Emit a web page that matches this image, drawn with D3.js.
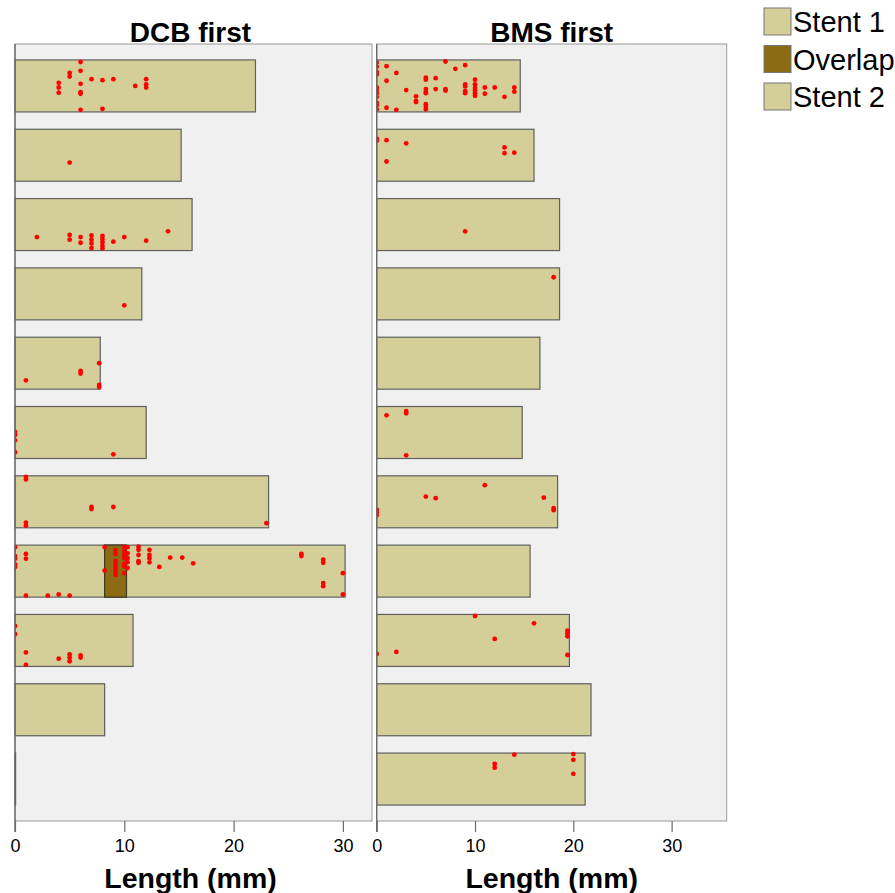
<!DOCTYPE html>
<html><head><meta charset="utf-8">
<script src="https://cdn.jsdelivr.net/npm/d3@7"></script>
<style>body{margin:0;background:#fff}svg{display:block}text{font-family:"Liberation Sans",Arial,sans-serif}</style>
</head><body><svg id="c" width="895" height="893"></svg>
<script>
// ---------- DATA ----------
const rows = ["1","2","3","4","5","6","7","8","9","10","11"];
const panelTitles = ["DCB first", "BMS first"];
const xTicks = [0, 10, 20, 30];
const xLabel = "Length (mm)";
const legendLabels = ["Stent 1", "Overlap", "Stent 2"];

// DCB first panel: stent 1 length per row, optional stent 2 [start,end]
const dcbStent1 = [22.0, 15.2, 16.2, 11.6, 7.8, 12.0, 23.2, 10.2, 10.8, 8.2, 0];
const dcbStent2 = [null, null, null, null, null, null, null, [8.2, 30.2], null, null, null];
// BMS first panel
const bmsStent1 = [14.6, 16.0, 18.6, 18.6, 16.6, 14.8, 18.4, 15.6, 19.6, 21.8, 21.2];
const bmsStent2 = [null, null, null, null, null, null, null, null, null, null, null];

// points: [row index, position (mm), vertical position within bar (0 top .. 1 bottom)]
const dcbPoints = [
 [0,6,0.04],[0,6,0.21],[0,5,0.25],[0,5,0.32],[0,4,0.44],[0,4,0.53],[0,4,0.63],[0,6,0.46],[0,6,0.62],[0,6,0.65],
 [0,7,0.37],[0,8,0.39],[0,9,0.37],[0,11,0.5],[0,12,0.37],[0,12,0.47],[0,12,0.53],[0,6,0.96],[0,8,0.94],
 [1,5,0.64],
 [2,2,0.74],[2,5,0.70],[2,5,0.79],[2,6,0.74],[2,6,0.85],[2,7,0.71],[2,7,0.79],[2,7,0.86],[2,7,0.95],[2,8,0.72],
 [2,8,0.78],[2,8,0.84],[2,8,0.91],[2,8,0.96],[2,9,0.83],[2,10,0.74],[2,12,0.81],[2,14,0.63],
 [3,10,0.72],
 [4,1,0.83],[4,6,0.65],[4,6,0.70],[4,7.7,0.50],[4,7.7,0.92],[4,7.7,0.96],
 [5,0,0.49],[5,0,0.55],[5,0,0.65],[5,0,0.88],[5,9,0.92],
 [6,1,0.02],[6,1,0.07],[6,7,0.60],[6,7,0.64],[6,9,0.60],[6,1,0.90],[6,1,0.96],[6,23,0.91],
 [7,0,0.04],[7,0,0.21],[7,0,0.26],[7,0,0.37],[7,0,0.42],[7,1,0.17],[7,1,0.26],[7,1,0.97],[7,3,0.97],[7,4,0.95],[7,5,0.97],
 [7,8.2,0.04],[7,8.2,0.49],
 [7,9.2,0.10],[7,9.2,0.17],[7,9.2,0.31],[7,9.2,0.38],[7,9.2,0.44],[7,9.2,0.51],[7,9.2,0.57],
 [7,10.0,0.04],[7,10.0,0.12],[7,10.0,0.19],[7,10.0,0.25],[7,10.0,0.36],[7,10.0,0.41],[7,10.0,0.54],
 [7,10.3,0.04],[7,10.3,0.16],[7,10.3,0.25],[7,10.3,0.33],[7,10.3,0.44],
 [7,11.3,0.03],[7,11.3,0.09],[7,11.3,0.19],[7,11.3,0.31],[7,11.3,0.34],
 [7,12.3,0.09],[7,12.3,0.19],[7,12.3,0.25],[7,12.3,0.33],
 [7,13.2,0.42],[7,14.2,0.24],[7,15.3,0.24],[7,16.3,0.35],
 [7,26.2,0.17],[7,26.2,0.21],[7,28.2,0.28],[7,28.2,0.34],[7,28.2,0.73],[7,28.2,0.79],[7,30.0,0.54],[7,30.0,0.95],
 [8,0,0.22],[8,0,0.38],[8,1,0.73],[8,1,0.97],[8,4,0.85],[8,5,0.77],[8,5,0.83],[8,5,0.90],[8,6,0.79],[8,6,0.83]
];
const bmsPoints = [
 [0,0,0.05],[0,0,0.13],[0,0,0.23],[0,0,0.28],[0,0,0.53],[0,0,0.58],[0,0,0.64],[0,0,0.71],[0,0,0.82],[0,0,0.87],[0,0,0.95],
 [0,1,0.12],[0,1,0.40],[0,1,0.92],[0,2,0.25],[0,2,0.96],[0,3,0.58],[0,4,0.70],[0,4,0.79],[0,4,0.81],
 [0,5,0.34],[0,5,0.38],[0,5,0.56],[0,5,0.61],[0,5,0.64],[0,5,0.85],[0,5,0.90],[0,5,0.95],[0,6,0.35],[0,6,0.56],
 [0,7,0.03],[0,7,0.56],[0,7,0.59],[0,8,0.17],[0,9,0.10],[0,9,0.47],[0,9,0.51],[0,9,0.60],[0,9,0.64],
 [0,10,0.38],[0,10,0.47],[0,10,0.54],[0,10,0.59],[0,10,0.64],[0,10,0.69],[0,11,0.53],[0,11,0.65],[0,12,0.53],
 [0,13,0.71],[0,14,0.53],[0,14,0.61],
 [1,0,0.18],[1,0,0.22],[1,1,0.21],[1,1,0.62],[1,3,0.27],[1,13,0.35],[1,13,0.46],[1,14,0.45],
 [2,9,0.63],
 [3,18,0.18],
 [5,1,0.17],[5,3,0.09],[5,3,0.13],[5,3,0.94],
 [6,11,0.18],[6,5,0.40],[6,6,0.43],[6,17,0.42],[6,18,0.62],[6,18,0.66],[6,0,0.65],[6,0,0.70],[6,0,0.76],
 [8,10,0.03],[8,16,0.17],[8,12,0.47],[8,2,0.72],[8,0,0.76],[8,19.4,0.31],[8,19.4,0.36],[8,19.4,0.42],[8,19.4,0.78],
 [10,14,0.03],[10,12,0.21],[10,12,0.28],[10,20,0.02],[10,20,0.13],[10,20,0.40]
];
const xMax = [32.66, 35.6];

// ---------- DRAW ----------
const svg = d3.select("#c");
const plotTop = 44, plotBottom = 821;
const panels = [
  {x0: 15, x1: 372, s1: dcbStent1, s2: dcbStent2, pts: dcbPoints},
  {x0: 376.7, x1: 726.7, s1: bmsStent1, s2: bmsStent2, pts: bmsPoints}
];
const y = d3.scaleBand().domain(d3.range(rows.length)).range([plotTop, plotBottom])
  .paddingInner(0.25).paddingOuter(0.23);
const fillStent = "#d4ce99", fillOverlap = "#8b6b13", barStroke = "#606060";
const defs = svg.append("defs");

panels.forEach((p, pi) => {
  const x = d3.scaleLinear().domain([0, xMax[pi]]).range([p.x0, p.x1]);
  const g = svg.append("g");
  g.append("rect").attr("x", p.x0).attr("y", plotTop).attr("width", p.x1 - p.x0).attr("height", plotBottom - plotTop)
    .attr("fill", "#f0f0f0").attr("stroke", "#9a9a9a").attr("stroke-width", 1);
  const cid = "clip" + pi;
  defs.append("clipPath").attr("id", cid).append("rect")
    .attr("x", p.x0).attr("y", plotTop).attr("width", p.x1 - p.x0).attr("height", plotBottom - plotTop);

  const bars = g.append("g");
  p.s1.forEach((v, i) => {
    bars.append("rect").attr("x", x(0)).attr("y", y(i))
      .attr("width", Math.max(x(v) - x(0), 0.6)).attr("height", y.bandwidth())
      .attr("fill", fillStent).attr("stroke", barStroke).attr("stroke-width", 1.2);
  });
  p.s2.forEach((s, i) => {
    if (!s) return;
    bars.append("rect").attr("x", x(s[0])).attr("y", y(i))
      .attr("width", x(s[1]) - x(s[0])).attr("height", y.bandwidth())
      .attr("fill", fillStent).attr("stroke", barStroke).attr("stroke-width", 1.2);
    const o0 = s[0], o1 = p.s1[i];
    bars.append("rect").attr("x", x(o0)).attr("y", y(i))
      .attr("width", x(o1) - x(o0)).attr("height", y.bandwidth())
      .attr("fill", fillOverlap).attr("stroke", "#3a3a20").attr("stroke-width", 1.2);
  });

  g.append("g").attr("clip-path", `url(#${cid})`).selectAll("circle").data(p.pts).join("circle")
    .attr("cx", d => x(d[1])).attr("cy", d => y(d[0]) + d[2] * y.bandwidth())
    .attr("r", 2.4).attr("fill", "#ff0000");

  g.append("line").attr("x1", x(0)).attr("x2", x(0)).attr("y1", plotTop).attr("y2", plotBottom + 11)
    .attr("stroke", "#6a6a6a").attr("stroke-width", 1.4);

  const ax = g.append("g").attr("transform", `translate(0,${plotBottom})`)
    .call(d3.axisBottom(x).tickValues(xTicks).tickSize(11).tickPadding(7).tickFormat(d3.format("d")));
  ax.select(".domain").remove();
  ax.selectAll(".tick line").attr("stroke", "#6a6a6a").attr("stroke-width", 1.2);
  ax.selectAll(".tick text").attr("font-size", 18).attr("fill", "#000")
    .style("font-family", '"Liberation Sans",Arial,sans-serif');

  const cx = (p.x0 + p.x1) / 2;
  svg.append("text").attr("x", cx - (pi === 0 ? 3 : 0)).attr("y", 42).attr("text-anchor", "middle")
    .attr("font-size", 28).attr("font-weight", "bold").text(panelTitles[pi]);
  svg.append("text").attr("x", cx - (pi === 0 ? 3 : 0)).attr("y", 888).attr("text-anchor", "middle")
    .attr("font-size", 28.5).attr("font-weight", "bold").text(xLabel);
});

// legend
const lg = svg.append("g");
const legFills = [fillStent, fillOverlap, fillStent];
legendLabels.forEach((t, i) => {
  const yy = 8 + i * 37.5;
  lg.append("rect").attr("x", 764).attr("y", yy).attr("width", 27).attr("height", 27)
    .attr("fill", legFills[i]).attr("stroke", "#777").attr("stroke-width", 1);
  lg.append("text").attr("x", 793).attr("y", yy + 24).attr("font-size", 29).attr("fill", "#000").text(t);
});
</script></body></html>
